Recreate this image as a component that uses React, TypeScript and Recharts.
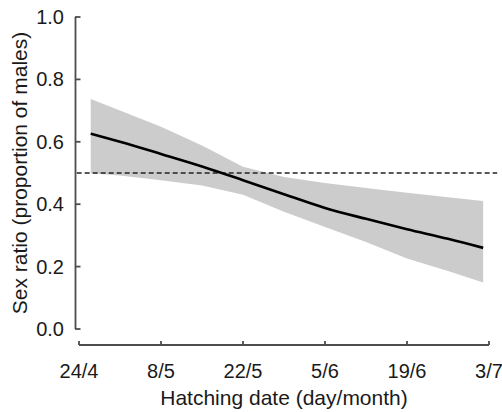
import React from 'react';
import { ComposedChart, Area, Line, XAxis, YAxis, ReferenceLine, Label } from 'recharts';

// days since 24 April
const days = [2, 7, 14, 21, 28, 35, 42, 49, 56, 63, 69];
const fitted = [0.626, 0.6, 0.561, 0.521, 0.477, 0.432, 0.388, 0.353, 0.32, 0.289, 0.26];
const upper = [0.737, 0.7, 0.648, 0.588, 0.52, 0.487, 0.468, 0.452, 0.437, 0.422, 0.41];
const lower = [0.499, 0.492, 0.477, 0.46, 0.43, 0.376, 0.327, 0.279, 0.226, 0.186, 0.149];

const xTicks = [0, 14, 28, 42, 56, 70];
const xTickLabels = ['24/4', '8/5', '22/5', '5/6', '19/6', '3/7'];
const yTicks = [0, 0.2, 0.4, 0.6, 0.8, 1.0];

const FONT = '"Liberation Sans", Arial, sans-serif';
const AXIS = '#4d4d4d';
const TEXT = '#1a1a1a';

const data = days.map((d, i) => ({ day: d, fit: fitted[i], band: [lower[i], upper[i]] }));

// x ticks point up into the plot, like the R original
const XTick = (props: any) => {
  const { x, y, payload } = props;
  const idx = xTicks.indexOf(payload.value);
  return (
    <g>
      <line x1={x} x2={x} y1={y - 4} y2={y} stroke={AXIS} strokeWidth={1.8} />
      <text x={x} y={y + 33} textAnchor="middle" fontSize={20} fontFamily={FONT} fill={TEXT}>
        {xTickLabels[idx]}
      </text>
    </g>
  );
};

const YTick = (props: any) => {
  const { x, y, payload } = props;
  return (
    <g>
      <line x1={x - 4} x2={x + 1.5} y1={y} y2={y} stroke={AXIS} strokeWidth={1.8} />
      <text x={x - 15} y={y + 7} textAnchor="end" fontSize={20} fontFamily={FONT} fill={TEXT}>
        {Number(payload.value).toFixed(1)}
      </text>
    </g>
  );
};

const App: React.FC = () => {
  return (
    <div style={{ position: 'absolute', left: 0, top: 0, width: 502, height: 412, background: '#fff' }}>
      <ComposedChart width={502} height={412} data={data} margin={{ top: 17, right: 13, left: 0, bottom: 0 }}>
        <XAxis
          dataKey="day"
          type="number"
          domain={[0, 70]}
          ticks={xTicks}
          interval={0}
          allowDataOverflow
          height={67}
          tickSize={0}
          tickMargin={0}
          tickLine={false}
          axisLine={{ stroke: AXIS, strokeWidth: 1.8 }}
          tick={<XTick />}
        >
          <Label
            content={(p: any) => {
              const vb = p.viewBox;
              return (
                <text x={vb.x + vb.width / 2} y={vb.y + 60} textAnchor="middle" fontSize={21} fontFamily={FONT} fill={TEXT}>
                  Hatching date (day/month)
                </text>
              );
            }}
          />
        </XAxis>
        <YAxis
          type="number"
          domain={[-0.0513, 1]}
          ticks={yTicks}
          interval={0}
          allowDataOverflow
          width={79}
          tickSize={0}
          tickMargin={0}
          tickLine={false}
          axisLine={false}
          tick={<YTick />}
        >
          <Label
            content={() => (
              <text
                x={19}
                y={173}
                transform="rotate(-90 19 173)"
                textAnchor="middle"
                dominantBaseline="central"
                fontSize={21}
                fontFamily={FONT}
                fill={TEXT}
              >
                Sex ratio (proportion of males)
              </text>
            )}
          />
        </YAxis>
        {/* y axis line only spans 0..1, detached from the x axis */}
        <ReferenceLine
          segment={[{ x: -0.6, y: 0 }, { x: -0.6, y: 1 }]}
          stroke={AXIS}
          strokeWidth={1.8}
          ifOverflow="visible"
        />
        <Area
          dataKey="band"
          type="linear"
          stroke="none"
          fill="#cccccc"
          fillOpacity={1}
          isAnimationActive={false}
        />
        <ReferenceLine
          segment={[{ x: -0.4, y: 0.5 }, { x: 71.4, y: 0.5 }]}
          stroke="#222"
          strokeWidth={1.4}
          strokeDasharray="5 3"
          ifOverflow="visible"
        />
        <Line
          dataKey="fit"
          type="monotone"
          stroke="#000"
          strokeWidth={2.6}
          dot={false}
          activeDot={false}
          isAnimationActive={false}
        />
      </ComposedChart>
    </div>
  );
};

export default App;
